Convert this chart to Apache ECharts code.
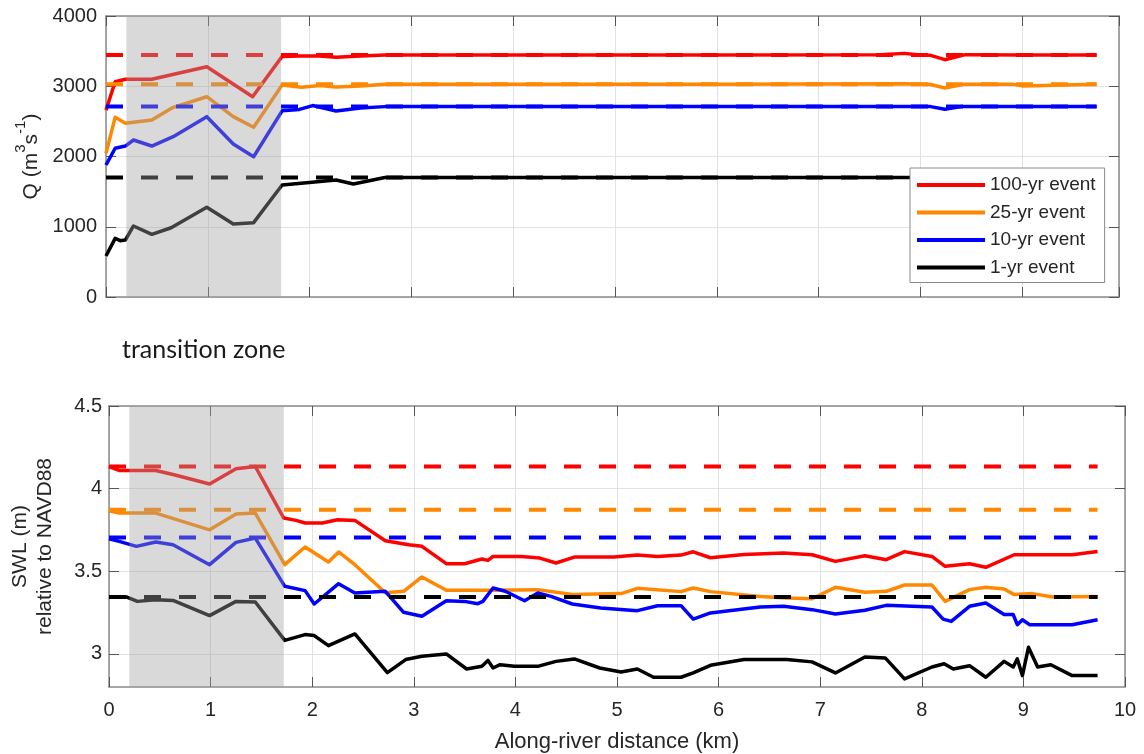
<!DOCTYPE html>
<html>
<head>
<meta charset="utf-8">
<script src="https://cdn.jsdelivr.net/npm/echarts@6/dist/echarts.min.js"></script>
<style>
  html, body { margin: 0; padding: 0; background: #fff; }
  #chart { width: 1144px; height: 754px; }
</style>
</head>
<body>
<div id="chart"></div>
<script>
// ---- Discharge Q (m3/s) along the river ----
const q100X = [0, 0.09, 0.19, 0.45, 0.99, 1.44, 1.73, 1.9, 2.1, 2.26, 2.5, 2.74, 4, 6, 7.6, 7.84, 8.0, 8.1, 8.24, 8.44, 9, 9.73];
const q100  = [2660, 3065, 3099, 3099, 3278, 2851, 3425, 3432, 3430, 3412, 3432, 3445, 3445, 3445, 3450, 3468, 3445, 3440, 3378, 3450, 3445, 3445];
const q25X  = [0, 0.09, 0.19, 0.45, 0.66, 0.99, 1.25, 1.45, 1.73, 1.92, 2.1, 2.26, 2.5, 2.74, 4, 6, 7.84, 8.1, 8.24, 8.44, 8.9, 9.0, 9.73];
const q25   = [2045, 2558, 2472, 2520, 2700, 2851, 2567, 2416, 3018, 2985, 3010, 2990, 3005, 3030, 3030, 3030, 3035, 3025, 2975, 3030, 3030, 3005, 3030];
const q10X  = [0, 0.09, 0.19, 0.27, 0.45, 0.66, 0.99, 1.25, 1.45, 1.73, 1.9, 2.03, 2.26, 2.5, 2.74, 4, 8.1, 8.24, 8.4, 9.73];
const q10   = [1879, 2117, 2149, 2235, 2149, 2282, 2567, 2178, 1997, 2650, 2670, 2725, 2648, 2690, 2710, 2710, 2710, 2672, 2710, 2710];
const q1X   = [0, 0.09, 0.14, 0.19, 0.27, 0.45, 0.64, 0.99, 1.25, 1.45, 1.73, 1.97, 2.26, 2.43, 2.74, 4, 6, 7.9, 9.73];
const q1    = [584, 835, 802, 811, 1011, 892, 986, 1277, 1039, 1058, 1594, 1627, 1665, 1609, 1700, 1700, 1700, 1700, 1700];
// upstream (boundary) discharge for each event
const qRef  = [3445, 3030, 2710, 1700];

// ---- Still water level SWL (m, NAVD88) along the river ----
const s100X = [0, 0.10, 0.46, 0.64, 0.99, 1.25, 1.44, 1.72, 1.84, 1.93, 2.10, 2.25, 2.42, 2.72, 2.95, 3.08, 3.32, 3.50, 3.67, 3.73, 3.78, 4.06, 4.24, 4.40, 4.58, 4.97, 5.20, 5.40, 5.63, 5.75, 5.92, 6.25, 6.64, 6.92, 7.15, 7.44, 7.65, 7.83, 8.10, 8.23, 8.47, 8.63, 8.91, 9.48, 9.73];
const s100  = [4.134, 4.11, 4.11, 4.084, 4.028, 4.12, 4.134, 3.822, 3.808, 3.792, 3.792, 3.812, 3.808, 3.685, 3.66, 3.651, 3.546, 3.546, 3.574, 3.566, 3.59, 3.59, 3.58, 3.55, 3.586, 3.586, 3.598, 3.59, 3.598, 3.618, 3.582, 3.602, 3.61, 3.60, 3.56, 3.594, 3.57, 3.619, 3.59, 3.53, 3.546, 3.524, 3.60, 3.60, 3.62];
const s25X  = [0, 0.10, 0.46, 0.99, 1.25, 1.44, 1.73, 1.93, 2.16, 2.26, 2.42, 2.72, 2.90, 3.08, 3.32, 3.76, 4.22, 4.56, 5.04, 5.20, 5.63, 5.75, 5.92, 6.41, 6.67, 6.92, 7.15, 7.44, 7.65, 7.83, 8.10, 8.23, 8.47, 8.63, 8.81, 8.91, 9.09, 9.29, 9.73];
const s25   = [3.866, 3.852, 3.852, 3.751, 3.846, 3.852, 3.54, 3.647, 3.556, 3.617, 3.54, 3.37, 3.379, 3.466, 3.385, 3.385, 3.389, 3.359, 3.365, 3.397, 3.377, 3.399, 3.377, 3.348, 3.339, 3.334, 3.403, 3.373, 3.379, 3.417, 3.417, 3.318, 3.389, 3.403, 3.393, 3.359, 3.365, 3.345, 3.348];
const s10X  = [0, 0.10, 0.27, 0.46, 0.63, 0.99, 1.25, 1.44, 1.73, 1.93, 2.02, 2.26, 2.42, 2.72, 2.90, 3.08, 3.32, 3.50, 3.63, 3.68, 3.78, 3.90, 4.09, 4.22, 4.35, 4.56, 4.84, 5.20, 5.40, 5.63, 5.75, 5.92, 6.41, 6.64, 6.92, 7.15, 7.44, 7.65, 8.10, 8.21, 8.29, 8.47, 8.63, 8.81, 8.90, 8.94, 8.99, 9.06, 9.48, 9.73];
const s10   = [3.697, 3.681, 3.651, 3.677, 3.661, 3.54, 3.675, 3.701, 3.409, 3.383, 3.302, 3.425, 3.369, 3.379, 3.252, 3.228, 3.322, 3.318, 3.304, 3.318, 3.399, 3.379, 3.322, 3.369, 3.348, 3.302, 3.278, 3.262, 3.292, 3.292, 3.211, 3.248, 3.284, 3.288, 3.268, 3.242, 3.264, 3.294, 3.284, 3.211, 3.197, 3.288, 3.308, 3.238, 3.238, 3.177, 3.207, 3.177, 3.177, 3.207];
const s1X   = [0, 0.17, 0.28, 0.46, 0.63, 0.99, 1.25, 1.44, 1.73, 1.93, 2.02, 2.16, 2.42, 2.74, 2.92, 3.08, 3.32, 3.52, 3.67, 3.73, 3.78, 3.85, 3.99, 4.22, 4.40, 4.58, 4.83, 5.04, 5.20, 5.36, 5.63, 5.75, 5.92, 6.25, 6.67, 6.92, 7.15, 7.44, 7.64, 7.83, 8.10, 8.22, 8.31, 8.47, 8.63, 8.81, 8.90, 8.94, 8.99, 9.05, 9.14, 9.27, 9.48, 9.73];
const s1    = [3.345, 3.345, 3.318, 3.328, 3.324, 3.232, 3.318, 3.314, 3.082, 3.117, 3.111, 3.05, 3.121, 2.887, 2.966, 2.986, 3.0, 2.909, 2.925, 2.961, 2.915, 2.935, 2.925, 2.925, 2.955, 2.97, 2.915, 2.891, 2.909, 2.859, 2.859, 2.885, 2.931, 2.966, 2.966, 2.952, 2.885, 2.982, 2.976, 2.849, 2.921, 2.941, 2.909, 2.929, 2.859, 2.955, 2.921, 2.97, 2.869, 3.04, 2.921, 2.935, 2.869, 2.869];
// downstream (boundary) water level for each event
const sRef  = [4.134, 3.873, 3.705, 3.345];

const refSpan = [0, 9.73];            // extent of the reference (dashed) lines
const transitionZone = [0.2, 1.72];   // shaded along-river interval
const eventNames = ['100-yr event', '25-yr event', '10-yr event', '1-yr event'];
const eventColors = ['#ff0000', '#ff8800', '#0000ff', '#000000'];
const swlTicks = [3, 3.5, 4, 4.5];

const zip = (xs, ys) => xs.map((x, i) => [x, ys[i]]);

const FONT = '"Liberation Sans", Arial, sans-serif';
const AXIS_COLOR = '#8a8a8a';
const TEXT_COLOR = '#262626';
const GRID_COLOR = '#e2e2e2';

function solid(name, data, color, xi, yi) {
  return {
    type: 'line', name, data, xAxisIndex: xi, yAxisIndex: yi,
    showSymbol: false, symbol: 'none', z: 2,
    itemStyle: { color }, lineStyle: { color, width: 3.5, join: 'round' },
    emphasis: { disabled: true }
  };
}
function dashed(value, color, xi, yi) {
  return {
    type: 'line', name: 'ref', data: refSpan.map(x => [x, value]),
    xAxisIndex: xi, yAxisIndex: yi, showSymbol: false, symbol: 'none', z: 3,
    lineStyle: { color, width: 4, type: [17, 18], cap: 'butt' },
    emphasis: { disabled: true }
  };
}
function shade(xi, yi) {
  return {
    type: 'custom', xAxisIndex: xi, yAxisIndex: yi, z: 6, silent: true,
    data: [transitionZone], encode: { x: [0, 1] },
    renderItem: function (params, api) {
      const cs = params.coordSys;
      const a = api.coord([api.value(0), 0]);
      const b = api.coord([api.value(1), 0]);
      return {
        type: 'rect',
        shape: { x: a[0], y: cs.y, width: b[0] - a[0], height: cs.height },
        style: { fill: 'rgba(160,160,160,0.4)' }
      };
    }
  };
}

function xAxisDef(grid, pos, max, showLabels, extra) {
  return Object.assign({
    type: 'value', gridIndex: grid, position: pos, min: 0, max: max, interval: 1,
    axisLine: { show: true, onZero: false, lineStyle: { color: AXIS_COLOR, width: 1.5 } },
    axisTick: { show: true, inside: true, length: 10, lineStyle: { color: '#555', width: 1 } },
    axisLabel: { show: showLabels, color: TEXT_COLOR, fontFamily: FONT, fontSize: 20, margin: 13 },
    splitLine: { show: pos === 'bottom', lineStyle: { color: GRID_COLOR, width: 1 } }
  }, extra || {});
}
function yAxisDef(grid, pos, range, showLabels, extra) {
  return Object.assign({
    type: 'value', gridIndex: grid, position: pos, min: range[0], max: range[1],
    axisLine: { show: true, onZero: false, lineStyle: { color: AXIS_COLOR, width: 1.5 } },
    axisTick: { show: true, inside: true, length: 10, lineStyle: { color: '#555', width: 1 } },
    axisLabel: { show: showLabels, color: TEXT_COLOR, fontFamily: FONT, fontSize: 20 },
    splitLine: { show: pos === 'left', lineStyle: { color: GRID_COLOR, width: 1 } }
  }, extra || {});
}

const chart = echarts.init(document.getElementById('chart'), null, { renderer: 'canvas' });

const series = [];
[q100, q25, q10, q1].forEach((ys, i) => {
  const xs = [q100X, q25X, q10X, q1X][i];
  series.push(solid(eventNames[i], zip(xs, ys), eventColors[i], 0, 0));
});
qRef.forEach((v, i) => series.push(dashed(v, eventColors[i], 0, 0)));
series.push(shade(0, 0));
[s100, s25, s10, s1].forEach((ys, i) => {
  const xs = [s100X, s25X, s10X, s1X][i];
  series.push(solid(eventNames[i], zip(xs, ys), eventColors[i], 2, 2));
});
sRef.forEach((v, i) => series.push(dashed(v, eventColors[i], 2, 2)));
series.push(shade(2, 2));

chart.setOption({
  animation: false,
  backgroundColor: '#ffffff',
  grid: [
    { left: 106, top: 16, width: 1013, height: 281 },
    { left: 106, top: 406, width: 1019, height: 281 }
  ],
  xAxis: [
    xAxisDef(0, 'bottom', 9.95, false),
    xAxisDef(0, 'top', 9.95, false),
    xAxisDef(1, 'bottom', 10, true, {
      name: 'Along-river distance (km)', nameLocation: 'middle', nameGap: 44,
      nameTextStyle: { color: TEXT_COLOR, fontFamily: FONT, fontSize: 22 }
    }),
    xAxisDef(1, 'top', 10, false)
  ],
  yAxis: [
    yAxisDef(0, 'left', [0, 4000], true, {
      interval: 1000,
      axisLabel: {
        show: true, color: TEXT_COLOR, fontFamily: FONT, fontSize: 20, margin: 9,
        formatter: v => String(v)
      },
      name: '{n|Q (m}{s|3}{n|s}{s|-1}{n|)}', nameLocation: 'middle', nameGap: 60,
      nameTextStyle: {
        color: TEXT_COLOR, fontFamily: FONT, fontSize: 21,
        rich: {
          n: { fontFamily: FONT, fontSize: 21, lineHeight: 28, color: TEXT_COLOR, verticalAlign: 'bottom' },
          s: { fontFamily: FONT, fontSize: 15, lineHeight: 15, color: TEXT_COLOR, verticalAlign: 'top' }
        }
      }
    }),
    yAxisDef(0, 'right', [0, 4000], false, { interval: 1000 }),
    yAxisDef(1, 'left', [2.8, 4.5], true, {
      axisTick: { show: true, inside: true, length: 10, customValues: swlTicks, lineStyle: { color: '#555', width: 1 } },
      axisLabel: { show: true, color: TEXT_COLOR, fontFamily: FONT, fontSize: 20, margin: 7, customValues: swlTicks },
      name: 'SWL (m)\nrelative to NAVD88', nameLocation: 'middle', nameGap: 51,
      nameTextStyle: { color: TEXT_COLOR, fontFamily: FONT, fontSize: 21, lineHeight: 25 }
    }),
    yAxisDef(1, 'right', [2.8, 4.5], false, {
      axisTick: { show: true, inside: true, length: 10, customValues: swlTicks, lineStyle: { color: '#555', width: 1 } },
      axisLabel: { show: false, customValues: swlTicks }
    })
  ],
  legend: {
    data: eventNames,
    orient: 'vertical', left: 910, top: 168,
    backgroundColor: '#ffffff', borderColor: '#8a8a8a', borderWidth: 1, borderRadius: 0,
    padding: [7, 9, 5, 7], itemGap: 7.5,
    icon: 'rect', itemWidth: 68, itemHeight: 4,
    textStyle: { color: TEXT_COLOR, fontFamily: FONT, fontSize: 19, lineHeight: 20 },
    selectedMode: false
  },
  graphic: [{
    type: 'text', left: 122, top: 337,
    style: { text: 'transition zone', fill: '#1a1a1a', font: '25px Lato, "Open Sans", sans-serif' }
  }],
  series: series
});
</script>
</body>
</html>
